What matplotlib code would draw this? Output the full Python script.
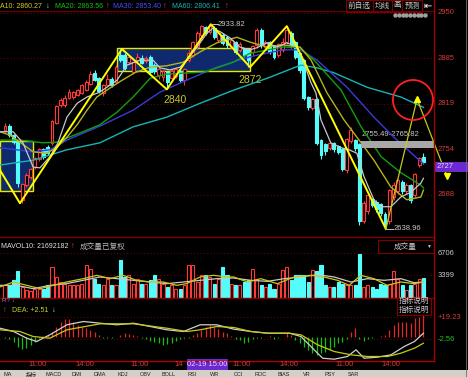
import matplotlib as mpl
mpl.use('Agg')
import matplotlib.pyplot as plt
from matplotlib.patches import Rectangle, Ellipse
from matplotlib.lines import Line2D
from matplotlib.transforms import blended_transform_factory
import numpy as np

plt.rcParams['font.family'] = ['Liberation Sans', 'Noto Sans CJK SC', 'DejaVu Sans']

# ---- 10分钟K线 (开, 收, 高, 低) ----
opens = [2781, 2786, 2774, 2764, 2680, 2703, 2714, 2728, 2740, 2753,
         2756, 2763, 2792, 2817, 2817, 2828, 2829, 2832, 2835, 2839,
         2848, 2863, 2856, 2835, 2847, 2854, 2851, 2889, 2889, 2879,
         2865, 2882, 2885, 2881, 2886, 2875, 2861, 2858, 2864, 2857,
         2859, 2866, 2854, 2882, 2890, 2901, 2918, 2929, 2923, 2928,
         2911, 2918, 2914, 2901, 2907, 2897, 2897, 2897, 2894, 2904,
         2925, 2901, 2907, 2901, 2889, 2897, 2908, 2921, 2907, 2892,
         2882, 2828, 2813, 2825, 2766, 2760, 2755, 2762, 2757, 2753,
         2724, 2766, 2766, 2761, 2651, 2665, 2681, 2677, 2674, 2660,
         2650, 2685, 2694, 2706, 2694, 2701, 2688, 2731, 2742]
closes = [2786, 2774, 2764, 2705, 2703, 2716, 2724, 2740, 2753, 2742,
          2749, 2793, 2815, 2824, 2827, 2835, 2835, 2838, 2845, 2850,
          2861, 2854, 2838, 2845, 2854, 2847, 2871, 2882, 2871, 2886,
          2878, 2886, 2878, 2884, 2865, 2866, 2868, 2865, 2851, 2866,
          2868, 2854, 2868, 2892, 2907, 2921, 2930, 2921, 2930, 2915,
          2921, 2907, 2904, 2911, 2894, 2905, 2890, 2882, 2901, 2925,
          2904, 2907, 2894, 2887, 2904, 2908, 2925, 2904, 2887, 2868,
          2828, 2815, 2825, 2763, 2745, 2751, 2762, 2754, 2750, 2726,
          2768, 2781, 2755, 2650, 2676, 2687, 2673, 2668, 2662, 2645,
          2694, 2702, 2708, 2694, 2701, 2681, 2717, 2741, 2735]
highs = [2791, 2790, 2776, 2766, 2705, 2720, 2727, 2743, 2756, 2756,
         2760, 2796, 2818, 2828, 2832, 2840, 2838, 2841, 2848, 2854,
         2866, 2868, 2858, 2848, 2862, 2858, 2875, 2898, 2892, 2889,
         2880, 2892, 2889, 2888, 2889, 2878, 2871, 2868, 2867, 2869,
         2872, 2869, 2871, 2896, 2910, 2924, 2933, 2931, 2933.82, 2931,
         2924, 2921, 2917, 2914, 2909, 2908, 2900, 2899, 2904, 2928,
         2928, 2911, 2910, 2904, 2907, 2914, 2931, 2924, 2909, 2894,
         2884, 2831, 2828, 2828, 2769, 2763, 2766, 2764, 2760, 2756,
         2770, 2786, 2768, 2763, 2679, 2690, 2684, 2680, 2677, 2663,
         2697, 2706, 2711, 2710, 2705, 2704, 2720, 2743, 2749]
lows = [2778, 2772, 2761, 2700, 2676, 2700, 2711, 2725, 2737, 2740,
        2746, 2760, 2790, 2815, 2815, 2826, 2826, 2830, 2833, 2837,
        2846, 2852, 2835, 2830, 2845, 2844, 2849, 2880, 2868, 2876,
        2862, 2879, 2876, 2878, 2862, 2862, 2855, 2852, 2840, 2853,
        2856, 2851, 2846, 2879, 2887, 2898, 2915, 2918, 2920, 2912,
        2908, 2904, 2900, 2898, 2891, 2894, 2886, 2872, 2890, 2900,
        2900, 2898, 2891, 2884, 2886, 2894, 2905, 2900, 2884, 2864,
        2825, 2810, 2810, 2760, 2740, 2746, 2752, 2750, 2747, 2722,
        2720, 2763, 2751, 2645, 2647, 2661, 2670, 2664, 2658, 2638.96,
        2646, 2681, 2690, 2690, 2690, 2676, 2685, 2728, 2732]

# ---- 均线 (K线序号, 价格) ----
ma5_x = [-1.2, 1.9, 4.2, 6.6, 8.2, 10.5, 12.4, 14.5, 16.9, 19.2, 22.2, 26.2, 28.6, 31.6,
         34.7, 36.3, 38.6, 41, 42.6, 45, 47.3, 48.7, 50.4, 52.7, 55, 57.4, 59, 61.4, 63.7,
         66, 68.4, 69.8, 71.7, 72.8, 74, 76.3, 78.7, 80.6, 82.4, 84.1, 86.4, 88.1, 90.4,
         92.7, 95.1, 97.4, 98]
ma5_y = [2779, 2779, 2763, 2728, 2727, 2743, 2763, 2800, 2820, 2829, 2836, 2853, 2875, 2882,
         2882, 2871, 2868, 2872, 2882, 2901, 2921, 2928, 2923, 2914, 2901, 2897, 2900, 2907,
         2901, 2907, 2901, 2882, 2849, 2835, 2796, 2763, 2756, 2753, 2748, 2714, 2681, 2671,
         2671, 2685, 2692, 2705, 2712]
ma10_x = [-1.2, 1.2, 3.5, 6.6, 9.8, 12.2, 14.5, 16.9, 19.2, 21.5, 24.6, 27.4, 30.4, 34,
          37.9, 41.7, 45.7, 49.6, 54.3, 57.4, 61.4, 65.1, 69.1, 71.7, 75.4, 79.4, 83.4,
          86.4, 90.4, 94.1, 97.4, 98]
ma10_y = [2779, 2774, 2764, 2750, 2748, 2757, 2771, 2789, 2810, 2829, 2842, 2853, 2864, 2872,
          2874, 2879, 2894, 2907, 2915, 2908, 2901, 2904, 2901, 2882, 2835, 2796, 2763,
          2738, 2699, 2681, 2685, 2695]
ma20_x = [-1.2, 3.5, 8.9, 12.2, 14.5, 18.3, 22.2, 26.2, 30, 34, 37.9, 46.8, 53.4, 57.4,
          65.1, 69.1, 72.4, 78.7, 83.4, 88.1, 92.7, 97.4, 98]
ma20_y = [2767, 2767, 2763, 2764, 2770, 2779, 2789, 2807, 2829, 2856, 2862, 2865, 2879, 2892,
          2901, 2900, 2882, 2839, 2786, 2743, 2720, 2702, 2698]
ma30_x = [-1.2, 6.6, 10.5, 14.5, 22.2, 30, 36.3, 41.7, 49.6, 57.4, 65.1, 69.1, 73.1, 80.1,
          86.4, 91.1, 97, 98]
ma30_y = [2756, 2750, 2753, 2767, 2787, 2810, 2836, 2851, 2872, 2887, 2897, 2897, 2882, 2843,
          2800, 2771, 2738, 2733]
ma60_x = [-1.2, 6.6, 14.5, 22.2, 30, 37.9, 45.7, 53.6, 61.4, 69.3, 73.1, 77, 84.8, 92.7,
          97.7, 98]
ma60_y = [2731, 2738, 2753, 2763, 2786, 2800, 2820, 2839, 2856, 2875, 2871, 2864, 2843, 2829,
          2815, 2814]

# ---- 画线: 波浪折线, 预测线, 箱体 ----
zz_x = [-1.2, 3.5, 27.4, 37.9, 48.2, 57.4, 66, 89.2]
zz_y = [2724, 2676, 2898, 2840, 2933.82, 2872, 2931, 2638.96]
fc_x = [89.2, 96.5, 103.5]
fc_y = [2638.96, 2826, 2715]
boxes = [(-1.2, 6.6, 2694, 2766), (26.2, 57.4, 2866.5, 2899.6)]
band = (83.4, 2755.49, 2765.82)

# ---- 成交量 ----
volume = [1900, 1900, 2650, 4000, 1650, 1150, 1000, 1400, 1400, 1400,
          1900, 4650, 3150, 2400, 2150, 1900, 1900, 2000, 2150, 4900,
          4400, 2800, 2150, 1900, 2900, 1900, 2000, 5650, 3150, 3500,
          2150, 2900, 2150, 2150, 2650, 3500, 2900, 2150, 1650, 1900,
          1400, 1400, 1900, 4900, 4900, 2400, 3500, 3400, 3150,
          2150, 2900, 4650, 3400, 2150, 1900, 1900, 2400, 2650, 4400,
          2900, 2000, 1650, 2150, 1400, 2150, 4150, 4650, 2650, 3400,
          3500, 3400, 2400, 4150, 4000, 5000, 1900, 1650, 1650, 2400,
          2150, 1900, 1900, 2000, 6650, 1650, 1900, 1650, 1400, 2150,
          2000, 2150, 4000, 2900, 1900, 1150, 1900, 2150, 2900, 3000]
mavol_a_x = [-1.2, 2, 5.1, 8.2, 11.3, 14.4, 18.3, 21.5, 24.6, 27.7, 30.8, 34, 37.1, 40.2,
             42.5, 45.7, 48.8, 51.9, 53.6, 56.8, 59.9, 63.8, 67.7, 71.6, 74.7, 77.9, 80.6,
             83.3, 86.4, 89.5, 92.7, 95.8, 98]
mavol_a_y = [1650, 2400, 1900, 1400, 1900, 2400, 2900, 3400, 2900, 3400, 2650, 2400, 2400,
             1900, 2150, 3150, 3400, 3150, 3150, 2400, 2900, 2150, 3150, 3400, 3150, 2650,
             1900, 3400, 2900, 1900, 2400, 2150, 2400]
mavol_b_x = [-1.2, 2.7, 6.6, 10.5, 14.4, 18.3, 22.2, 26.2, 30.1, 34, 37.9, 41.8, 45.7, 49.6,
             53.5, 57.6, 61.5, 65.4, 69.3, 73.2, 77.1, 81, 84.9, 88.8, 92.7, 95.8, 98]
mavol_b_y = [1900, 1900, 1400, 1900, 2150, 2650, 3150, 2900, 2650, 2400, 2150, 2400, 2650,
             2900, 3000, 2650, 2500, 2900, 3150, 3500, 3150, 2400, 2900, 2650, 2900, 2300,
             2400]

# ---- MACD ----
macd_bar = [-1.7, -2.7, -5, -10, -12.7, -11.7, -8.3, -5, -1.7, 0.5,
            1.7, 5, 10, 15, 17.3, 17.3, 15, 11.7, 10, 8.3,
            6.7, 5, 1.7, -1, -1.7, -1, -0.7, 1.7, 3.3, 2.3,
            1.7, 0.7, -1.7, -2.7, -4, -5, -6.7, -8.3, -7.3, -6,
            -4, -2.7, -1.7, -1, 1.7, 3.3, 6.7, 10, 11.7, 10,
            7.3, 5, 3.3, 0.7, -2.7, -3.3, -6, -5, -2.7, -1,
            -1.7, -0.7, 0.3, -2.7, -1.7, -0.7, 3.3, 1.7, -3.3, -6.7,
            -10, -13.3, -16.7, -18.3, -16.7, -15, -13.3, -10, -6.7, -5,
            -2.7, 5, 8.3, -2.7, -4, -2.7, -1.7, -0.7, 0.7, 1.7,
            6.7, 11.7, 15, 15, 15, 13.3, 18.3, 20, 21.7]
dif_x = [-1.2, 2, 5.1, 7.4, 10.5, 14.5, 18.4, 22.3, 26.2, 30.1, 34, 37.9, 41.8, 45.7, 49.6,
         53.6, 57.6, 61.5, 66.6, 69.3, 72.4, 74.4, 77.1, 80.2, 82.2, 84.1, 87.2, 90.4, 93.5,
         95.9, 98]
dif_y = [8.3, 5, -1.7, -5, 1.7, 11.7, 15, 13.3, 11.7, 13.3, 10, 6.7, 5, 11.7, 11.7,
         7.3, 5, 3.3, 3.3, 0, -13.3, -21.7, -22.7, -20, -13.3, -21.7, -20.7, -18.3, -10,
         -5, 3.3]
dea_x = [-1.2, 3.5, 6.6, 10.5, 14.5, 22.3, 30.1, 37.9, 42.6, 45.7, 49.6, 53.6, 57.6, 61.5,
         66.6, 69.3, 73.2, 77.1, 81, 84.9, 89.6, 92.7, 95.9, 98]
dea_y = [6.7, 5, 0, -1.7, 6.7, 12.7, 12.7, 8.3, 5, 6.7, 10, 9, 5, 3.3,
         3.3, 1.7, -8.3, -15, -18.3, -20, -20, -16.7, -11.7, -6.7]

price_ticks = [2950, 2885, 2819, 2754, 2688]
vol_ticks = [6706, 3399]
time_labels = [('11:00', 7.7), ('14:00', 18.7), ('11:00', 31.6), ('14', 40.8),
               ('11:00', 55.5), ('14:00', 66.5), ('11:00', 79.6), ('14:00', 90.4)]

# ---------------------------------------------------------------
W, H = 468, 377
fig = plt.figure(figsize=(W / 100, H / 100), dpi=100, facecolor='black')
XL = (-1.17, 100.47)
RED_T = '#d83838'
UP = '#ff3838'
DN = '#54fcfc'


def px_axes(x0, y0, x1, y1):
    a = fig.add_axes([x0 / W, 1 - y1 / H, (x1 - x0) / W, (y1 - y0) / H])
    a.set_facecolor('black')
    a.set_xlim(*XL)
    a.set_xticks([])
    a.set_yticks([])
    for s in a.spines.values():
        s.set_visible(False)
    return a


def ftext(x, y, s, **kw):
    kw.setdefault('fontsize', 5.5)
    kw.setdefault('va', 'center')
    fig.text(x / W, 1 - y / H, s, **kw)


def fline(x0, y0, x1, y1, **kw):
    fig.add_artist(Line2D([x0 / W, x1 / W], [1 - y0 / H, 1 - y1 / H], **kw))


ax = px_axes(0, 10, 434, 237)
axv = px_axes(0, 237, 434, 298)
axm = px_axes(0, 298, 434, 360)
ax.set_ylim(2627.4, 2954.3)
axv.set_ylim(0, 9150)
axm.set_ylim(-23.5, 38.5)

idx = np.arange(len(closes))
o = np.array(opens)
c = np.array(closes)
up = c >= o

# grid
for p in price_ticks:
    ax.axhline(p, color='#6a0000', lw=0.8, ls=(0, (1, 2)), zorder=0)
for v in vol_ticks:
    axv.axhline(v, color='#6a0000', lw=0.8, ls=(0, (1, 2)), zorder=0)
for v in [19.23, -2.56]:
    axm.axhline(v, color='#6a0000', lw=0.8, ls=(0, (1, 2)), zorder=0)

# boxes
for x0, x1, y0, y1 in boxes:
    ax.add_patch(Rectangle((x0, y0), x1 - x0, y1 - y0, facecolor='#0e2a6c',
                           edgecolor='#e8e800', lw=1.0, zorder=1))

# candles
ax.vlines(idx, lows, highs, colors=[UP if u else DN for u in up], lw=0.8, zorder=3)
ax.bar(idx, np.abs(c - o) + 0.8, bottom=np.minimum(o, c), width=0.68,
       facecolor=['black' if u else DN for u in up],
       edgecolor=[UP if u else DN for u in up], lw=0.8, zorder=4)

# moving averages
ax.plot(ma60_x, ma60_y, color='#18b4b4', lw=1.0, zorder=5)
ax.plot(ma30_x, ma30_y, color='#3a3ad8', lw=1.0, zorder=5)
ax.plot(ma20_x, ma20_y, color='#10a010', lw=1.0, zorder=5)
ax.plot(ma10_x, ma10_y, color='#b4b41c', lw=1.0, zorder=5)
ax.plot(ma5_x, ma5_y, color='#c8c8c8', lw=0.9, zorder=5)

# zigzag and forecast
ax.plot(zz_x, zz_y, color='#ffff00', lw=1.4, zorder=6)
ax.plot(fc_x, fc_y, color='#c8c820', lw=0.9, zorder=6, clip_on=False)
ax.plot(fc_x[1], fc_y[1], marker='^', ms=5, color='#ffff00', zorder=7, clip_on=False)
ax.plot(fc_x[2], fc_y[2], marker='v', ms=5, color='#ffff00', zorder=7, clip_on=False)

ax.text(39.8, 2825, '2840', color='#c8c830', fontsize=7.5, ha='center', va='center')
ax.text(57.4, 2853.5, '2872', color='#c8c830', fontsize=7.5, ha='center', va='center')
ax.plot([48.3, 49.8], [2933.82, 2933.82], color='#c0c0c0', lw=0.7, zorder=6)
ax.text(49.9, 2933.82, '2933.82', color='#c8c8c8', fontsize=5.5, va='center')
ax.plot([89.4, 90.9], [2638.96, 2638.96], color='#c0c0c0', lw=0.7, zorder=6)
ax.text(91.0, 2638.96, '2638.96', color='#c8c8c8', fontsize=5.5, va='center')

# resistance band
ax.add_patch(Rectangle((band[0], band[1]), XL[1] - band[0], band[2] - band[1],
                       facecolor='#a8a8a8', edgecolor='none', zorder=5))
ax.text(band[0], 2775, '2755.49-2765.82', color='#c8c8c8', fontsize=5.5, va='center')

ax.add_patch(Ellipse((95.55, 2824.7), 9.4, 57.6, fill=False, ec='#ff2020', lw=1.3,
                     zorder=8, clip_on=False))

tr = blended_transform_factory(ax.transAxes, ax.transData)
for p in price_ticks:
    ax.text(1.008, p, str(p), transform=tr, color=RED_T, fontsize=5.5, va='center',
            clip_on=False)
fig.add_artist(Rectangle((434 / W, 1 - 172 / H), 34 / W, 10 / H, transform=fig.transFigure,
                         facecolor='#6a2ad0', edgecolor='none'))
ftext(437, 167, '2727', color='#f0d0ff')

# volume
axv.bar(idx, volume, width=0.72, facecolor=['black' if u else DN for u in up],
        edgecolor=[UP if u else DN for u in up], lw=0.8, zorder=3)
axv.plot(mavol_b_x, mavol_b_y, color='#c8c8c8', lw=0.9, zorder=4)
axv.plot(mavol_a_x, mavol_a_y, color='#c8c814', lw=0.9, zorder=4)
trv = blended_transform_factory(axv.transAxes, axv.transData)
for v in vol_ticks:
    axv.text(1.008, v, str(v), transform=trv, color='#c8c8c8', fontsize=5.5, va='center',
             clip_on=False)

# MACD
mb = np.array(macd_bar)
axm.vlines(idx, 0, mb, colors=np.where(mb >= 0, '#e02828', '#10c010'), lw=0.9, zorder=3)
axm.plot(dif_x, dif_y, color='#d0d0d0', lw=0.9, zorder=4)
axm.plot(dea_x, dea_y, color='#c8c814', lw=0.9, zorder=4)
trm = blended_transform_factory(axm.transAxes, axm.transData)
axm.text(1.008, 19.23, '+19.23', transform=trm, color=RED_T, fontsize=5.5, va='center',
         clip_on=False)
axm.text(1.008, -2.56, '-2.56', transform=trm, color='#20c020', fontsize=5.5, va='center',
         clip_on=False)

# frame lines
fline(0, 11, 434, 11, color='#6a0000', lw=0.8)
fline(0, 237, 434, 237, color='#800000', lw=1.0)
fline(0, 298, 434, 298, color='#800000', lw=1.0)
fline(0, 360.5, 434, 360.5, color='#b00000', lw=1.0)
fline(434, 0, 434, 360.5, color='#a00000', lw=1.0)
fline(466, 0, 466, 377, color='#707070', lw=0.6)

# header
HF = 5.0
ftext(0, 6, 'A10: 2860.27', color='#d0d020', fontsize=HF)
ftext(46, 6, '↓', color=DN, fontsize=5.5)
ftext(55, 6, 'MA20: 2863.56', color='#10c010', fontsize=HF)
ftext(106, 6, '↑', color=UP, fontsize=5.5)
ftext(113, 6, 'MA30: 2853.40', color='#4a4aff', fontsize=HF)
ftext(163, 6, '↑', color=UP, fontsize=5.5)
ftext(172, 6, 'MA60: 2806.41', color='#18b4b4', fontsize=HF)
ftext(225, 6, '↑', color=UP, fontsize=5.5)
for x0, x1, s in [(346, 373, '前自选'), (373, 392, '均线'), (392, 402, '画'), (402, 422, '预测')]:
    fig.add_artist(Rectangle((x0 / W, 1 - 12 / H), (x1 - x0) / W, 12 / H,
                             transform=fig.transFigure, facecolor='black',
                             edgecolor='#800000', lw=0.8))
    ftext((x0 + x1) / 2, 6, s, color='#c8c8c8', ha='center')
ftext(428, 6, '⇤', color='white', ha='center', fontsize=7)
fig.add_artist(Line2D(np.linspace(395, 425, 9) / W, [1 - 15 / H] * 9, ls='none', marker='o',
                      ms=2.2, color='#a0a0a0', transform=fig.transFigure))

ftext(1, 247, 'MAVOL10: 21692182', color='#e0e0e0', fontsize=HF)
ftext(71, 247, '↑', color=UP, fontsize=5.5)
ftext(80, 247, '成交量已复权', color='#b8b8b8')
fig.add_artist(Rectangle((378 / W, 1 - 253 / H), 56 / W, 13 / H, transform=fig.transFigure,
                         facecolor='black', edgecolor='#800000', lw=0.8))
ftext(405, 246.5, '成交量', color='#c8c8c8', ha='center')
ftext(428, 246.5, '▼', color='#c8c8c8', ha='center', fontsize=3.5)

ftext(2, 301, 'R? ↓', color='#c060c0', fontsize=4.5)
ftext(3, 311, '↑', color=UP, fontsize=5.5)
ftext(12, 311, 'DEA: +2.51', color='#d0d020', fontsize=HF)
ftext(52, 311, '↓', color=DN, fontsize=5.5)
fig.add_artist(Rectangle((397 / W, 1 - 315 / H), 34 / W, 17 / H, transform=fig.transFigure,
                         facecolor='black', edgecolor='#800000', lw=0.8))
ftext(414, 301, '指标说明', color='#c8c8c8', ha='center')
ftext(414, 310, '指标说明', color='#c8c8c8', ha='center')

# time axis
for s, b in time_labels:
    ftext(5 + 4.27 * b, 365, s, color=RED_T, ha='center')
fig.add_artist(Rectangle((187 / W, 1 - 371 / H), 41 / W, 12 / H, transform=fig.transFigure,
                         facecolor='#6a2ad0', edgecolor='none'))
ftext(207, 365, '02-19 15:00', color='#f0d0ff', ha='center')

# bottom tab strip
fig.add_artist(Rectangle((0, 0), 1, 7 / H, transform=fig.transFigure, facecolor='#d4d0c8',
                         edgecolor='none'))
tabs = ['MA', '指标', 'MACD', 'DMI', 'DMA', 'KDJ', 'OBV', 'BOLL', 'RSI', 'WR', 'CCI',
        'ROC', 'BIAS', 'VR', 'PSY', 'SAR']
for k, s in enumerate(tabs):
    ftext(8 + k * 23, 374, s, color='#202020', fontsize=4, ha='center')

fig.savefig('out.png', dpi=100, facecolor='black')
plt.close()
